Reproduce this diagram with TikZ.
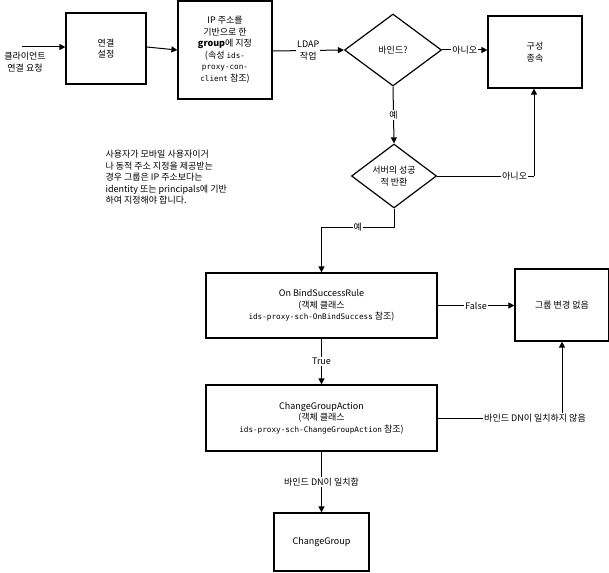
\documentclass[tikz,border=0pt]{standalone}
\usepackage{fontspec}
\setmainfont{Noto Sans CJK KR}
\newfontfamily\mono{DejaVu Sans Mono}[Scale=0.85]
\usetikzlibrary{arrows.meta,shapes.geometric}
\begin{document}
\begin{tikzpicture}[x=1pt,y=-1pt,font=\fontsize{9}{11.5}\selectfont,
  box/.style={draw,line width=1.2pt,align=center,inner sep=0pt},
  dia/.style={draw,line width=1.2pt,diamond,align=center,inner sep=0pt},
  arr/.style={line width=1pt,-{Triangle[length=6pt,width=6pt]}},
  ln/.style={line width=1pt},
  lab/.style={fill=white,inner sep=1pt,align=center}]
\useasboundingbox (0,0) rectangle (609,572);
\node[box,minimum width=80,minimum height=71] (b1) at (106,48.5) {연결\\설정};
\node[box,minimum width=94,minimum height=98] (b2) at (225,50) {IP 주소를\\기반으로 한\\\textbf{group}에 지정\\(속성 {\mono ids-}\\{\mono proxy-con-}\\{\mono client} 참조)};
\node[dia,minimum width=97,minimum height=72] (d1) at (393,50) {바인드?};
\node[box,minimum width=94,minimum height=72] (b3) at (535,52) {구성\\종속};
\node[dia,minimum width=85,minimum height=64] (d2) at (394,176) {서버의 성공\\적 반환};
\node[align=left,anchor=north west] (t) at (102,147) {사용자가 모바일 사용자이거\\나 동적 주소 지정을 제공받는\\경우 그룹은 IP 주소보다는\\identity 또는 principals에 기반\\하여 지정해야 합니다.};
\node[box,minimum width=231,minimum height=65] (b4) at (321.5,305.5) {On BindSuccessRule\\(객체 클래스\\{\mono ids-proxy-sch-OnBindSuccess} 참조)};
\node[box,minimum width=94,minimum height=72] (b5) at (562,305) {그룹 변경 없음};
\node[box,minimum width=231,minimum height=66] (b6) at (321.5,418) {ChangeGroupAction\\(객체 클래스\\{\mono ids-proxy-sch-ChangeGroupAction} 참조)};
\node[box,minimum width=95,minimum height=58] (b7) at (321.5,542) {ChangeGroup};
\node[align=center] (src) at (25,62) {클라이언트\\연결 요청};
\node[lab] (nm) at (535,418) {바인드 DN이 일치하지 않음};
\coordinate (s0) at (22,47);
\draw[arr] (s0) -- (b1.west |- s0);
\draw[arr] (b1.east |- 0,47) -- (b2.west |- 0,50);
\draw[arr] (b2.east |- 0,51) -- node[lab]{LDAP\\작업} (d1.west);
\draw[arr] (d1.east) -- node[lab]{아니오} (b3.west |- d1.east);
\draw[arr] (d1.south) -- node[lab]{예} (d2.north);
\coordinate (c1) at (534,176);
\draw[ln] (d2.east) -- node[lab,pos=.8]{아니오} (c1);
\draw[arr] (c1) -- (b3.south -| c1);
\coordinate (c2) at (394,227);
\coordinate (c3) at (321.5,227);
\draw[arr] (d2.south) -- (c2) -- node[lab]{예} (c3) -- (b4.north);
\draw[arr] (b4.east) -- node[lab]{False} (b5.west |- b4.east);
\draw[arr] (b4.south) -- node[lab]{True} (b6.north);
\draw[ln] (b6.east) -- (nm.west);
\draw[arr] (nm.north -| b5.south) -- (b5.south);
\draw[arr] (b6.south) -- node[lab]{바인드 DN이 일치함} (b7.north);
\end{tikzpicture}
\end{document}
